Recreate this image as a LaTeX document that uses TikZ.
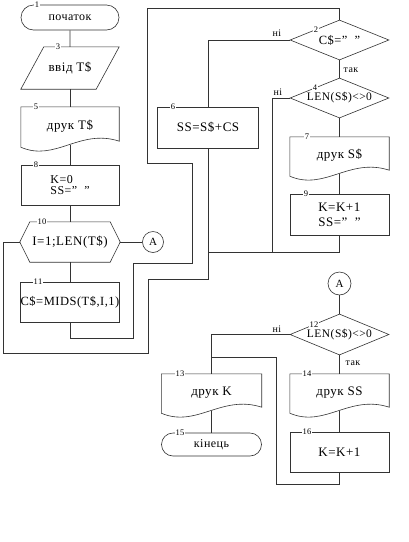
\documentclass[tikz,border=0pt]{standalone}
\usepackage{fontspec}
\setmainfont{Liberation Serif}[LetterSpace=4]
\usetikzlibrary{shapes.geometric,shapes.misc,calc}
\newcommand\docpath[1]{\draw[fc line] (#1.north west) -- ($(#1.south west)+(0,2)$) .. controls ($(#1.south west)!0.35!(#1.south east)+(0,17)$) and ($(#1.south west)!0.6!(#1.south east)+(0,-17)$) .. ($(#1.south east)+(0,-4)$) -- (#1.north east) -- cycle;}
\begin{document}
\begin{tikzpicture}[x=1pt,y=-1pt,
  fc line/.style={draw=black!80,line width=0.6pt},
  txt/.style={font=\fontsize{13}{15}\selectfont},
  proc/.style={rectangle,fc line,txt,inner sep=0pt,minimum width=98pt,minimum height=40pt,align=left},
  ghost/.style={rectangle,inner sep=0pt,txt,align=center},
  dec/.style={diamond,fc line,aspect=2.5,inner sep=0pt,minimum width=99pt,minimum height=40pt,font=\fontsize{11.5}{13}\selectfont},
  term/.style={rounded rectangle,fc line,inner sep=0pt,minimum width=98pt,minimum height=25pt,font=\fontsize{12}{14}\selectfont},
  conn/.style={circle,fc line,inner sep=0pt,minimum size=21pt,font=\fontsize{11}{12}\selectfont},
  num/.style={fill=white,inner sep=1pt,font=\fontsize{8.5}{9}\selectfont},
  yn/.style={inner sep=0pt,font=\fontsize{10}{11}\selectfont}]
\fill[white] (0,0) rectangle (408,542);
\useasboundingbox (0,0) rectangle (408,542);

% column 1
\node[term] (n1) at (70,17.5) {початок};
\node[ghost,minimum width=98pt,minimum height=42pt] (n3) at (70,68) {ввід T\$};
\draw[fc line] ($(n3.north west)+(23,0)$) -- (n3.north east) -- ($(n3.south east)+(-23,0)$) -- (n3.south west) -- cycle;
\node[ghost,minimum width=98pt,minimum height=38pt] (n5) at (70,126) {друк T\$};
\docpath{n5}
\node[proc,font=\fontsize{12}{11.5}\selectfont] (n8) at (70,185) {K=0\\SS=" \ "};
\node[ghost,minimum width=100pt,minimum height=40pt] (n10) at (70,242) {I=1;LEN(T\$)};
\draw[fc line] (n10.west) -- ($(n10.north west)+(10,0)$) -- ($(n10.north east)+(-10,0)$) -- (n10.east) -- ($(n10.south east)+(-10,0)$) -- ($(n10.south west)+(10,0)$) -- cycle;
\node[proc,font=\fontsize{12.5}{14}\selectfont] (n11) at (70,302) {C\$=MIDS(T\$,I,1)};
\node[conn] (a1) at (153,242) {A};

% column 2
\node[proc,minimum width=101pt,minimum height=41pt] (n6) at (208,127.5) {SS=S\$+CS};

% column 3
\node[dec,font=\fontsize{12.5}{14}\selectfont] (n2) at (339.5,40) {C\$=" \ "};
\node[dec] (n4) at (339.5,98) {LEN(S\$)<>0};
\node[ghost,minimum width=99pt,minimum height=37pt] (n7) at (339.5,155.5) {друк S\$};
\docpath{n7}
\node[proc,minimum width=99pt,minimum height=41pt] (n9) at (339.5,214.5) {K=K+1\\SS=" \ "};
\node[conn,minimum size=23pt] (a2) at (339.5,283.5) {A};
\node[dec,minimum height=41pt] (n12) at (339.5,334.5) {LEN(S\$)<>0};
\node[ghost,minimum width=99pt,minimum height=37pt] (n14) at (339.5,392.5) {друк SS};
\docpath{n14}
\node[proc,minimum width=99pt] (n16) at (339.5,452) {K=K+1};

% column 4
\node[ghost,minimum width=100pt,minimum height=37pt] (n13) at (211.5,392.5) {друк K};
\docpath{n13}
\node[term,minimum width=100pt,minimum height=23pt] (n15) at (211.5,444.5) {кінець};

% connectors
\draw[fc line] (n1) -- (n3);
\draw[fc line] (n3) -- (n5);
\draw[fc line] (n5.south) -- (n8);
\draw[fc line] (n8) -- (n10);
\draw[fc line] (n10) -- (n11);
\draw[fc line] (n10.east) -- (a1);
\draw[fc line] (n11.south) -- ++(0,16) -| (133,263) -| (192,163) -| (147,8) -| (n2.north);
\draw[fc line] (n2.west) -| (n6.north);
\draw[fc line] (n2.south) -- (n4.north);
\draw[fc line] (n4.west) -| (272,252);
\draw[fc line] (n4.south) -- (n7.north);
\draw[fc line] (n7.south) -- (n9.north);
\draw[fc line] (n9.south) |- (208,252);
\draw[fc line] (n6.south) -- (208,279) -| (148,353) -| (3,242) -- (n10.west);
\draw[fc line] (a2) -- (n12.north);
\draw[fc line] (n12.west) -| (n13.north);
\draw[fc line] (n12.south) -- (n14.north);
\draw[fc line] (n14.south) -- (n16.north);
\draw[fc line] (n16.south) -- ++(0,12) -| (276,357) -- (211.5,357);
\draw[fc line] (n13.south) -- (n15.north);

% labels
\node[yn] (y2) at (277,33) {ні};
\node[yn] (t2) at (351,70) {так};
\node[yn] (y4) at (278,92) {ні};
\node[yn] (y12) at (277,329) {ні};
\node[yn] (t12) at (353,363) {так};

\node[num] (l1) at (37,5) {1};
\node[num] (l3) at (58,47) {3};
\node[num] (l5) at (36,107) {5};
\node[num] (l8) at (36,165) {8};
\node[num] (l10) at (42,222) {10};
\node[num] (l11) at (38,282) {11};
\node[num] (l2) at (316,30) {2};
\node[num] (l4) at (315,88) {4};
\node[num] (l6) at (173,107) {6};
\node[num] (l7) at (307,137) {7};
\node[num] (l9) at (306,194) {9};
\node[num] (l12) at (314,325) {12};
\node[num] (l13) at (180,374) {13};
\node[num] (l14) at (307,374) {14};
\node[num] (l15) at (180,433) {15};
\node[num] (l16) at (307,432) {16};
\end{tikzpicture}
\end{document}
